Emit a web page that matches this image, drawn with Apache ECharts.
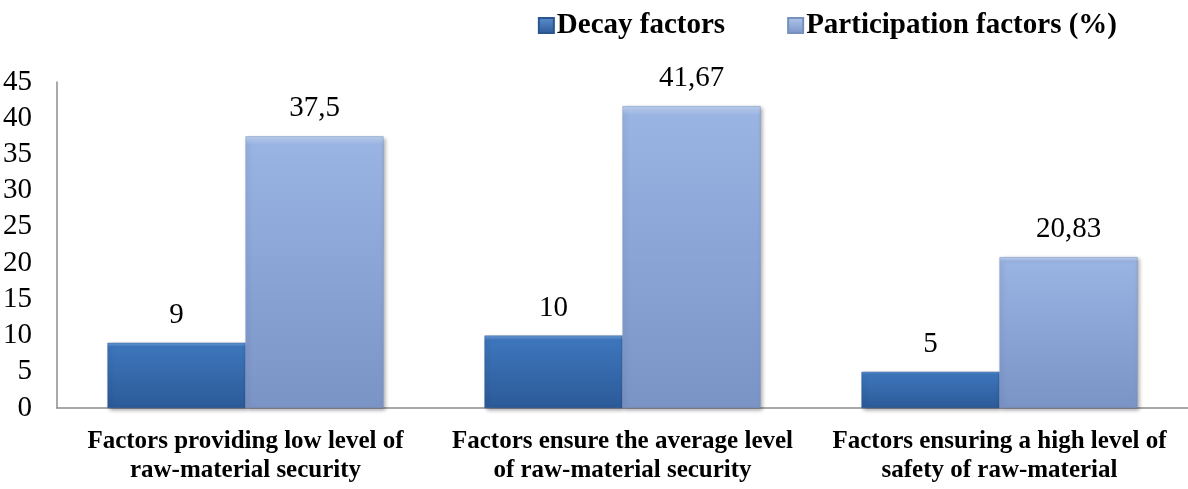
<!DOCTYPE html>
<html><head><meta charset="utf-8">
<script src="https://cdn.jsdelivr.net/npm/echarts@6/dist/echarts.min.js"></script>
<style>html,body{margin:0;padding:0;background:#fff}#c{width:1188px;height:489px}</style>
</head><body><div id="c"></div>
<script>
var categories = ["Factors providing low level of\nraw-material security", "Factors ensure the average level\nof raw-material security", "Factors ensuring a high level of\nsafety of raw-material"];
var decayFactors = [9, 10, 5];
var participationFactors = [37.5, 41.67, 20.83];
var seriesNames = ["Decay factors", "Participation factors (%)"];

function fmt(v){ return String(v).replace('.', ','); }
var serif = '"Liberation Serif","Times New Roman",serif';
var chart = echarts.init(document.getElementById('c'));
var darkGrad = new echarts.graphic.LinearGradient(0,0,0,1,[{offset:0,color:'#6fa0dc'},{offset:0.06,color:'#3d76bc'},{offset:0.5,color:'#3569ab'},{offset:1,color:'#2c5a98'}]);
var lightGrad = new echarts.graphic.LinearGradient(0,0,0,1,[{offset:0,color:'#bfd2f2'},{offset:0.03,color:'#99b3e2'},{offset:0.5,color:'#8aa4d6'},{offset:1,color:'#7b94c6'}]);
var legendDark = new echarts.graphic.LinearGradient(0,0,0,1,[{offset:0,color:'#5b8fd0'},{offset:1,color:'#2c5a98'}]);
var legendLight = new echarts.graphic.LinearGradient(0,0,0,1,[{offset:0,color:'#b0c6ea'},{offset:1,color:'#7b94c6'}]);
chart.setOption({
  animation:false,
  textStyle:{fontFamily:serif},
  legend:{
    top:6, right:66, itemWidth:15, itemHeight:15, itemGap:62,
    icon:'rect',
    textStyle:{fontFamily:serif,fontWeight:'bold',fontSize:29,color:'#000',padding:[0,0,0,-2]},
    data:[{name:seriesNames[0],itemStyle:{color:legendDark}},{name:seriesNames[1],itemStyle:{color:legendLight}}]
  },
  grid:{left:57, right:0, top:82, bottom:81, containLabel:false},
  xAxis:{
    type:'category', data:categories,
    axisLine:{lineStyle:{color:'#8c8c8c',width:1.5}},
    axisTick:{show:false},
    axisLabel:{fontFamily:serif,fontWeight:'bold',fontSize:25,color:'#000',margin:19,lineHeight:29,interval:0}
  },
  yAxis:{
    type:'value', min:0, max:45, interval:5,
    axisLine:{show:true,lineStyle:{color:'#8c8c8c',width:1.5}},
    axisTick:{show:false},
    splitLine:{show:false},
    axisLabel:{fontFamily:serif,fontSize:29,color:'#000',margin:25}
  },
  series:[
    {name:seriesNames[0], type:'bar', data:decayFactors, barWidth:138, barGap:'0%',
     itemStyle:{color:darkGrad, borderColor:'#2a5590', borderWidth:0.5, shadowColor:'rgba(0,0,0,0.35)', shadowBlur:4, shadowOffsetX:2, shadowOffsetY:2},
     label:{show:true, position:'top', distance:13, fontFamily:serif, fontSize:29, color:'#000', formatter:function(p){return fmt(p.value);}}},
    {name:seriesNames[1], type:'bar', data:participationFactors, barWidth:138,
     itemStyle:{color:lightGrad, borderColor:'#7690c0', borderWidth:0.5, shadowColor:'rgba(0,0,0,0.35)', shadowBlur:4, shadowOffsetX:2, shadowOffsetY:2},
     label:{show:true, position:'top', distance:13, fontFamily:serif, fontSize:29, color:'#000', formatter:function(p){return fmt(p.value);}}}
  ]
});
</script></body></html>
